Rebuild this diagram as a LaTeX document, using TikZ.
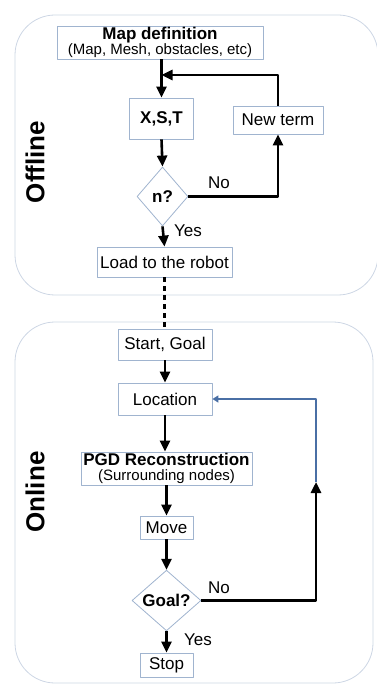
\documentclass[tikz,border=0pt]{standalone}
\usepackage{fontspec}
\setmainfont{Liberation Sans}
\usetikzlibrary{arrows.meta,shapes.geometric}
\definecolor{boxedge}{RGB}{160,180,207}
\definecolor{zoneedge}{RGB}{205,214,228}
\definecolor{loopblue}{RGB}{74,111,165}
\newcommand{\labfont}{\fontsize{17}{19}\selectfont}
\newcommand{\subfont}{\fontsize{15}{16}\selectfont}
\newcommand{\sidefont}{\fontsize{26}{28}\selectfont\bfseries}
\begin{document}
\begin{tikzpicture}[x=1pt, y=-1pt, font=\labfont, line join=round,
  box/.style={draw=boxedge, line width=0.8pt, fill=white, inner sep=0pt, align=center},
  decision/.style={diamond, draw=boxedge, line width=0.8pt, fill=white, inner sep=0pt, font=\labfont\bfseries},
  flow/.style={line width=2.6pt, -{Triangle[length=11pt,width=10pt]}},
  zone/.style={draw=zoneedge, line width=0.8pt, rounded corners=40pt}]
\useasboundingbox (0,0) rectangle (376,684);
% Zones
\draw[zone] (15,15) rectangle (378,295);
\draw[zone] (15,322) rectangle (373,683);
\node[rotate=90, font=\sidefont] (offlbl) at (35,162) {Offline};
\node[rotate=90, font=\sidefont] (onlbl) at (35,492) {Online};
% Offline part
\node[box, minimum width=206pt, minimum height=33pt] (mapdef) at (160,42.5)
  {{\labfont\bfseries Map definition}\\[-4pt]{\subfont (Map, Mesh, obstacles, etc)}};
\node[box, minimum width=64pt, minimum height=41pt, font=\labfont\bfseries] (xst) at (161.5,118.5) {X,S,T};
\node[box, minimum width=90pt, minimum height=28pt] (newterm) at (278,120) {New term};
\node[decision, minimum width=51pt, minimum height=59pt] (nq) at (162.5,196.5) {n?};
\node[box, minimum width=135pt, minimum height=30pt] (load) at (164.5,262) {Load to the robot};
\coordinate (merge) at (161.5,75);
\draw[line width=2.6pt] (mapdef.south -| xst.north) -- (merge);
\draw[flow] (merge) -- (xst.north);
\draw[flow] (newterm.north) |- (merge);
\draw[flow] (xst.south) -- (nq.north);
\draw[flow] (nq.east) -| (newterm.south);
\draw[flow] (nq.south) -- (load.north);
\node (no1) at (219,183) {No};
\node (yes1) at (188,231) {Yes};
% Link to online
\node[box, minimum width=94pt, minimum height=31pt] (start) at (165,344.5) {Start, Goal};
\draw[line width=2.6pt, dash pattern=on 5pt off 4pt] (load.south) -- (start.north -| load.south);
% Online part
\node[box, minimum width=94pt, minimum height=32pt] (loc) at (165,399) {Location};
\node[box, minimum width=171pt, minimum height=33pt] (pgd) at (166.5,468.5)
  {{\labfont\bfseries PGD Reconstruction}\\[-4pt]{\subfont (Surrounding nodes)}};
\node[box, minimum width=53pt, minimum height=23pt] (move) at (166.5,527.5) {Move};
\node[decision, minimum width=69pt, minimum height=59pt] (goalq) at (166.5,600.5) {Goal?};
\node[box, minimum width=53pt, minimum height=24pt] (stop) at (166.5,665) {Stop};
\draw[flow] (start) -- (loc);
\draw[flow] (loc.south) -- (pgd.north -| loc.south);
\draw[flow] (pgd.south -| move.north) -- (move.north);
\draw[flow] (move) -- (goalq);
\draw[flow] (goalq) -- (stop);
\coordinate (turn) at (316,482);
\draw[flow] (goalq.east) -| (turn);
\draw[loopblue, line width=2.2pt, -{Triangle[length=6pt,width=7pt]}] (turn) |- (loc.east);
\node (no2) at (219,588) {No};
\node (yes2) at (198,640) {Yes};
\end{tikzpicture}
\end{document}
